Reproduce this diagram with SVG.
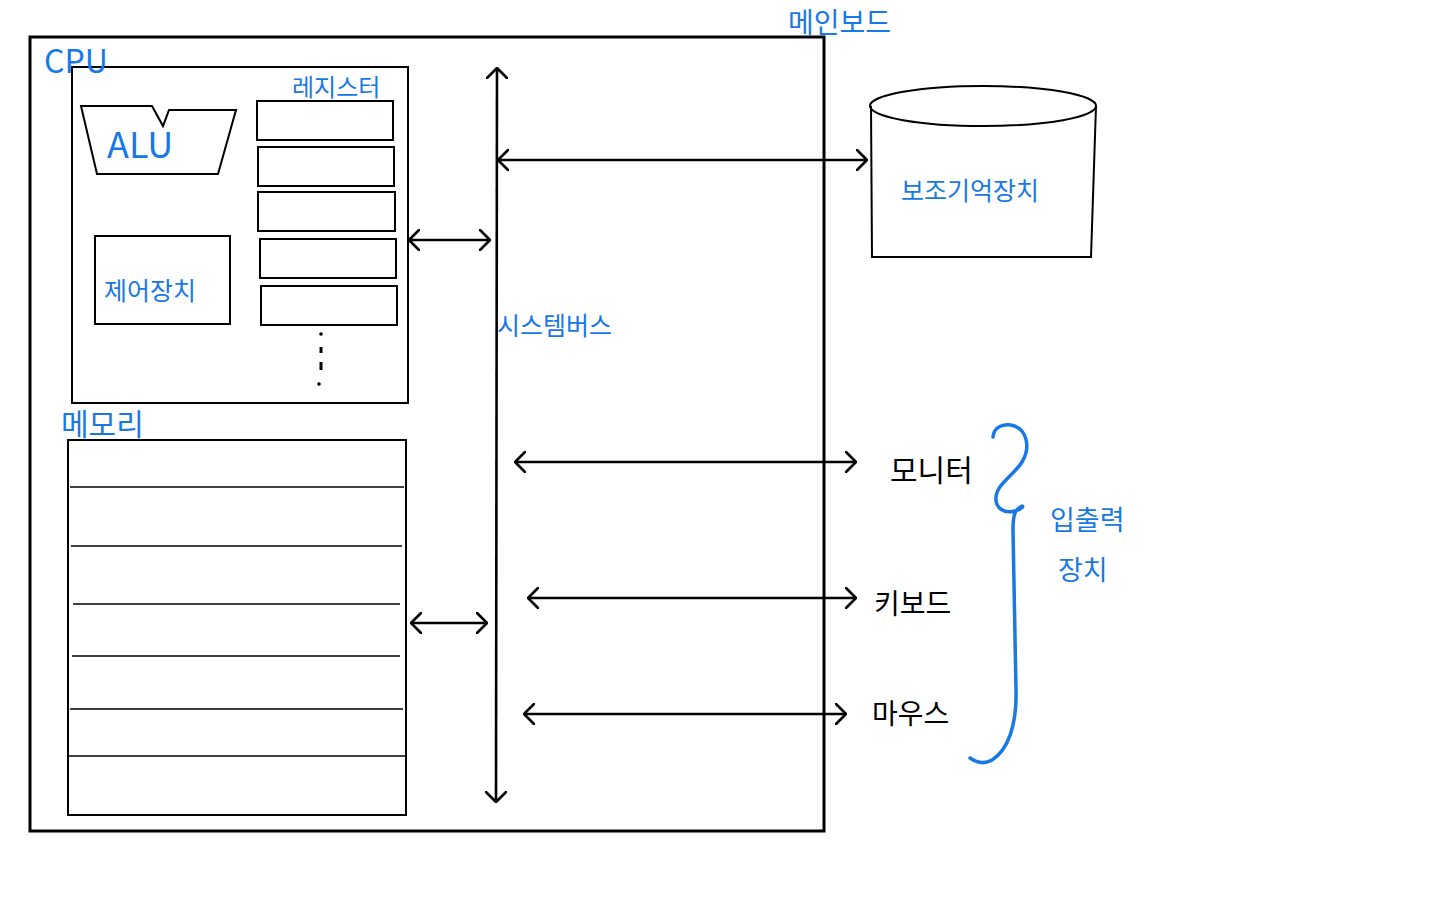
<svg xmlns="http://www.w3.org/2000/svg" width="1440" height="900" viewBox="0 0 1440 900">
<defs>
<style>
.box{fill:none;stroke:#000;stroke-width:2}
.thick{fill:none;stroke:#000;stroke-width:3}
.line{fill:none;stroke:#000;stroke-width:1.6}
.conn{fill:none;stroke:#000;stroke-width:2.6}
.blue{fill:#1778e6;font-family:"Noto Sans CJK KR","Noto Sans",sans-serif}
.black{fill:#000;font-family:"Noto Sans CJK KR","Noto Sans",sans-serif}
.brace{fill:none;stroke:#1778e6;stroke-width:3.5;stroke-linecap:round;stroke-linejoin:round}
</style>
<marker id="ah" viewBox="0 0 12 22" refX="11" refY="11" markerWidth="12" markerHeight="22" markerUnits="userSpaceOnUse" orient="auto-start-reverse">
<path d="M1,1 L11,11 L1,21" fill="none" stroke="#000" stroke-width="2.6" stroke-linecap="round" stroke-linejoin="round"/>
</marker>
</defs>
<rect width="1440" height="900" fill="#fff"/>

<g id="mainboard">
<rect x="30" y="37" width="794" height="794" class="thick"/>
<text x="788" y="33" class="blue" font-size="28">메인보드</text>
</g>

<g id="cpu">
<rect x="72" y="67" width="336" height="336" class="box"/>
<text x="44" y="73" class="blue" font-size="32">CPU</text>
</g>

<g id="alu">
<polygon points="81,106 152,106 163,126 169,110 236,110 218,174 97,174" class="box"/>
<text x="107" y="158" class="blue" font-size="36">ALU</text>
</g>

<g id="control-unit">
<rect x="95" y="236" width="135" height="88" class="box"/>
<text x="104" y="300" class="blue" font-size="25">제어장치</text>
</g>

<g id="registers">
<text x="292" y="96" class="blue" font-size="24">레지스터</text>
<rect x="257" y="101" width="136" height="39" class="box"/>
<rect x="258" y="147" width="136" height="39" class="box"/>
<rect x="258" y="192" width="137" height="39" class="box"/>
<rect x="260" y="239" width="136" height="39" class="box"/>
<rect x="261" y="286" width="136" height="39" class="box"/>
<circle cx="321" cy="334" r="1.8" fill="#000"/>
<rect x="319.5" y="347" width="3" height="6" fill="#000"/>
<rect x="319.5" y="362" width="3" height="8" fill="#000"/>
<circle cx="319" cy="384" r="1.8" fill="#000"/>
</g>

<g id="memory">
<text x="61" y="435" class="blue" font-size="30">메모리</text>
<rect x="68" y="440" width="338" height="375" class="box"/>
<line x1="70" y1="487" x2="404" y2="487" class="line"/>
<line x1="71" y1="546" x2="402" y2="546" class="line"/>
<line x1="73" y1="604" x2="400" y2="604" class="line"/>
<line x1="72" y1="656" x2="400" y2="656" class="line"/>
<line x1="70" y1="709" x2="403" y2="709" class="line"/>
<line x1="69" y1="756" x2="405" y2="756" class="line"/>
</g>

<g id="system-bus">
<text x="497" y="335" class="blue" font-size="25">시스템버스</text>
</g>

<g id="aux-storage">
<path d="M871,106 L872,257 L1091,257 L1096,106" class="box"/>
<ellipse cx="983" cy="106" rx="113" ry="20" class="box"/>
<text x="901" y="200" class="blue" font-size="25">보조기억장치</text>
</g>

<g id="monitor">
<text x="890" y="481" class="black" font-size="30">모니터</text>
</g>
<g id="keyboard">
<text x="874" y="614" class="black" font-size="28">키보드</text>
</g>
<g id="mouse">
<text x="872" y="724" class="black" font-size="28">마우스</text>
</g>

<g id="io-devices">
<path d="M993,437 C994,426 1004,424 1011,425 C1027,428 1031,447 1022,462 C1014,475 997,484 996,497 C995,508 1004,514 1015,511 C1022,509 1024,506 1022,506 C1015,509 1013,515 1013,530 L1016,690 C1017,725 1008,750 992,760 C985,764 977,763 970,758" class="brace"/>
<text x="1050" y="530" class="blue" font-size="27">입출력</text>
<text x="1058" y="580" class="blue" font-size="27">장치</text>
</g>

<g id="connectors">
<line x1="497" y1="68" x2="496" y2="802" class="conn" marker-start="url(#ah)" marker-end="url(#ah)"/>
<line x1="498" y1="160" x2="867" y2="160" class="conn" marker-start="url(#ah)" marker-end="url(#ah)"/>
<line x1="409" y1="240" x2="490" y2="240" class="conn" marker-start="url(#ah)" marker-end="url(#ah)"/>
<line x1="411" y1="623" x2="487" y2="623" class="conn" marker-start="url(#ah)" marker-end="url(#ah)"/>
<line x1="515" y1="462" x2="856" y2="462" class="conn" marker-start="url(#ah)" marker-end="url(#ah)"/>
<line x1="528" y1="598" x2="856" y2="598" class="conn" marker-start="url(#ah)" marker-end="url(#ah)"/>
<line x1="524" y1="714" x2="846" y2="714" class="conn" marker-start="url(#ah)" marker-end="url(#ah)"/>
</g>
</svg>
